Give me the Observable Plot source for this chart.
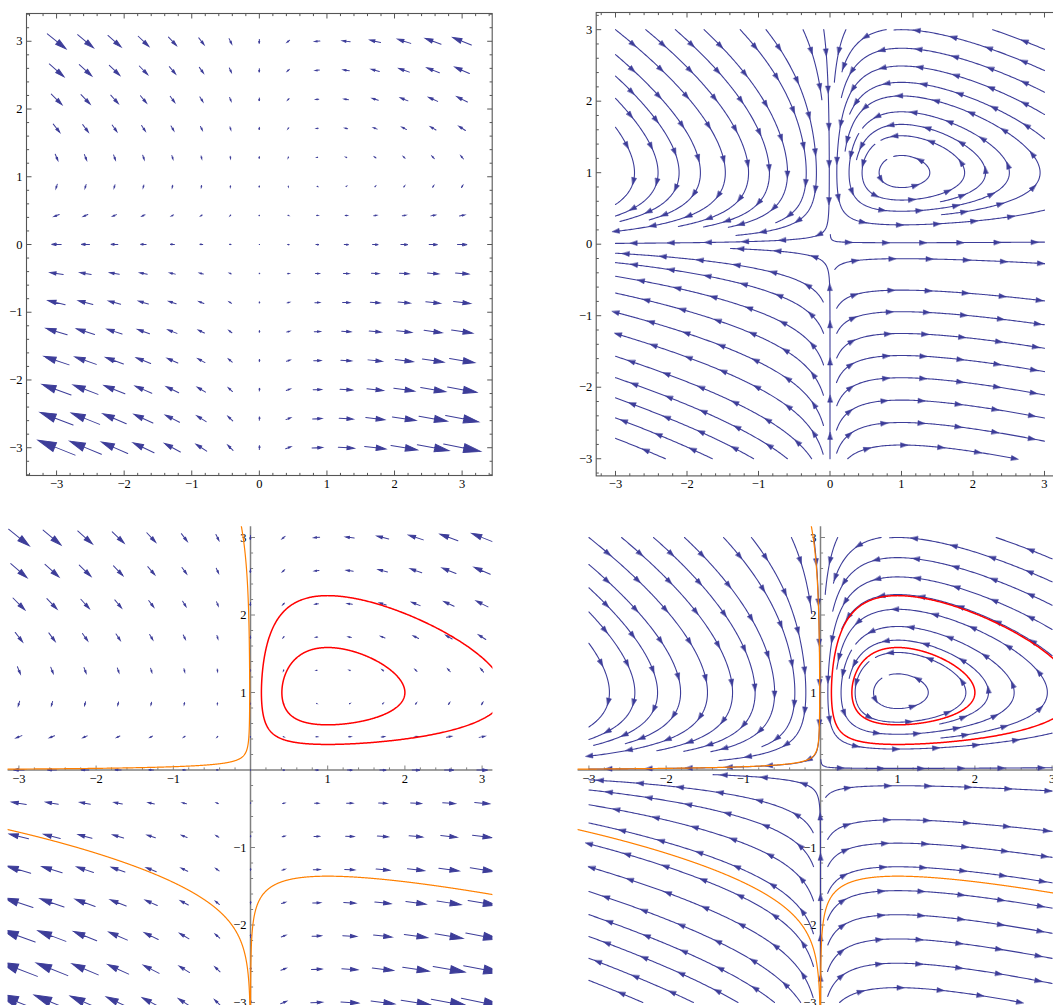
<!DOCTYPE html>
<html><head><meta charset="utf-8">
<script src="https://cdn.jsdelivr.net/npm/d3@7"></script>
<script src="https://cdn.jsdelivr.net/npm/@observablehq/plot@0.6"></script>
<style>
html,body{margin:0;padding:0;background:#fff;overflow:hidden}
#page{position:relative;width:1053px;height:1005px;overflow:hidden;background:#fff}
#page text{font-family:'Liberation Serif','Times New Roman',serif}
</style></head><body><div id="page"></div>
<script>
// ---------------- data ----------------
// sample grid used by the vector plots (15 x 15)
const gridPoints = [-3, -18/7, -15/7, -12/7, -9/7, -6/7, -3/7, 0, 3/7, 6/7, 9/7, 12/7, 15/7, 18/7, 3];
// field coefficients: x' = growth*x*(1-y), y' = coupling*y*(x-1)
const fieldCoefficients = [1, 0.4];
// frame / axis tick labels
const majorTicks = [-3, -2, -1, 0, 1, 2, 3];
const axisTicks = [-3, -2, -1, 1, 2, 3];
// closed orbits (red) through these points
const orbitPoints = [[2, 1], [1, 2.25]];
// open trajectories (orange) through these points
const trajectoryPoints = [[-0.095, 3], [-1, -1.45], [1, -1.37]];

const BLUE = "#3d3d99", RED = "#ff0000", ORANGE = "#ff8000";
const FRAME = "#555", AXIS = "#808080";
const FONT = "'Liberation Serif', 'Times New Roman', serif";
const FS = 12.5;

const [growth, coupling] = fieldCoefficients;
const field = (x, y) => [growth * x * (1 - y), coupling * y * (x - 1)];
const fmt = d => d < 0 ? "\u2212" + Math.abs(d) : String(d);
const minorTicks = d3.range(-17, 18).filter(i => i % 5 !== 0).map(i => i / 5);

function dir(x, y) { const [u, v] = field(x, y); const m = Math.hypot(u, v); return m < 1e-12 ? null : [u / m, v / m]; }
function rk4(x, y, h) {
  const k1 = dir(x, y); if (!k1) return null;
  const k2 = dir(x + h / 2 * k1[0], y + h / 2 * k1[1]); if (!k2) return null;
  const k3 = dir(x + h / 2 * k2[0], y + h / 2 * k2[1]); if (!k3) return null;
  const k4 = dir(x + h * k3[0], y + h * k3[1]); if (!k4) return null;
  return [x + h / 6 * (k1[0] + 2 * k2[0] + 2 * k3[0] + k4[0]), y + h / 6 * (k1[1] + 2 * k2[1] + 2 * k3[1] + k4[1])];
}

// vector samples
const vectors = [];
for (const gx of gridPoints) for (const gy of gridPoints) {
  const [u, v] = field(gx, gy);
  vectors.push({x: gx, y: gy, mag: Math.hypot(u, v), ang: Math.atan2(u, v) * 180 / Math.PI});
}

// conserved quantity for level curves
const V = (x, y) => coupling * (x - Math.log(Math.abs(x))) + growth * (y - Math.log(Math.abs(y)));
const orbits = [];
orbitPoints.forEach(([px, py], id) => {
  const C = V(px, py);
  for (let k = 0; k <= 720; k++) {
    const t = k / 720 * 2 * Math.PI, c = Math.cos(t), s = Math.sin(t);
    let rmax = 8;
    if (c < 0) rmax = Math.min(rmax, -1 / c);
    if (s < 0) rmax = Math.min(rmax, -1 / s);
    let a = 0, b = rmax * 0.9999999;
    for (let it = 0; it < 60; it++) { const m = (a + b) / 2; if (V(1 + m * c, 1 + m * s) < C) a = m; else b = m; }
    orbits.push({x: 1 + a * c, y: 1 + a * s, id});
  }
});

// open trajectories
const trajectories = [];
trajectoryPoints.forEach(([x0, y0], id) => {
  const halves = [];
  for (const sg of [-1, 1]) {
    const pts = []; let x = x0, y = y0;
    for (let n = 0; n < 5000; n++) {
      const p = rk4(x, y, sg * 0.004); if (!p) break;
      [x, y] = p; pts.push([x, y]);
      if (Math.abs(x) > 3.4 || Math.abs(y) > 3.4) break;
    }
    halves.push(pts);
  }
  [...halves[0].reverse(), [x0, y0], ...halves[1]].forEach(([x, y]) => trajectories.push({x, y, id}));
});

// evenly spaced streamlines
function buildStreamlines() {
  const lo = -3, hi = 3, dsep = 0.27, dtest = 0.09, h = 0.02, minLen = 0.3;
  const cs = dsep, off = 5;
  const idx = v => Math.floor((v + off) / cs);
  const kk = (i, j) => i * 4096 + j;
  const cells = new Map();
  const add = (x, y) => { const k = kk(idx(x), idx(y)); let a = cells.get(k); if (!a) cells.set(k, a = []); a.push(x, y); };
  const dmin = (x, y) => { const i = idx(x), j = idx(y); let b = Infinity;
    for (let di = -1; di <= 1; di++) for (let dj = -1; dj <= 1; dj++) { const a = cells.get(kk(i + di, j + dj)); if (!a) continue;
      for (let t = 0; t < a.length; t += 2) { const d = Math.hypot(a[t] - x, a[t + 1] - y); if (d < b) b = d; } }
    return b; };
  const speed = (x, y) => { const [u, v] = field(x, y); return Math.hypot(u, v); };
  const inside = (x, y) => x >= lo && x <= hi && y >= lo && y <= hi;
  function trace(sx, sy) {
    const own = new Map();
    const oadd = (x, y, s) => { const k = kk(idx(x), idx(y)); let a = own.get(k); if (!a) own.set(k, a = []); a.push(x, y, s); };
    const onear = (x, y, s) => { const i = idx(x), j = idx(y);
      for (let di = -1; di <= 1; di++) for (let dj = -1; dj <= 1; dj++) { const a = own.get(kk(i + di, j + dj)); if (!a) continue;
        for (let t = 0; t < a.length; t += 3) if (Math.abs(a[t + 2] - s) > 4 * dtest && Math.hypot(a[t] - x, a[t + 1] - y) < dtest) return true; }
      return false; };
    oadd(sx, sy, 0);
    const halves = [];
    for (const sg of [1, -1]) {
      const pts = []; let x = sx, y = sy, s = 0;
      for (let n = 0; n < 1500; n++) {
        const p = rk4(x, y, sg * h); if (!p) break;
        const [nx, ny] = p;
        if (!inside(nx, ny)) {
          let t = 1;
          if (nx < lo) t = Math.min(t, (lo - x) / (nx - x));
          if (nx > hi) t = Math.min(t, (hi - x) / (nx - x));
          if (ny < lo) t = Math.min(t, (lo - y) / (ny - y));
          if (ny > hi) t = Math.min(t, (hi - y) / (ny - y));
          pts.push([x + t * (nx - x), y + t * (ny - y)]); break;
        }
        if (speed(nx, ny) < 0.003) break;
        s += sg * h;
        if (dmin(nx, ny) < dtest) break;
        if (onear(nx, ny, s)) break;
        x = nx; y = ny; pts.push([x, y]); oadd(x, y, s);
      }
      halves.push(pts);
    }
    return [...halves[1].reverse(), [sx, sy], ...halves[0]];
  }
  const arc = L => { let s = 0; for (let i = 1; i < L.length; i++) s += Math.hypot(L[i][0] - L[i - 1][0], L[i][1] - L[i - 1][1]); return s; };
  const lines = [];
  function tryseed(x, y) {
    if (!inside(x, y)) return null;
    if (dmin(x, y) < dsep * 0.98) return null;
    if (speed(x, y) < 0.01) return null;
    const L = trace(x, y);
    if (arc(L) < minLen) return null;
    for (const p of L) add(p[0], p[1]);
    lines.push(L); return L;
  }
  const seeds = [];
  for (let j = 0; j <= 12; j++) for (let i = 0; i <= 12; i++) seeds.push([-3 + i * 0.5, 3 - j * 0.5]);
  for (const [sx, sy] of seeds) {
    const L0 = tryseed(sx, sy); if (!L0) continue;
    const queue = [L0];
    while (queue.length) {
      const cur = queue.shift();
      for (let i = 1; i < cur.length - 1; i += 4) {
        const tx = cur[i + 1][0] - cur[i - 1][0], ty = cur[i + 1][1] - cur[i - 1][1], tm = Math.hypot(tx, ty);
        if (tm < 1e-9) continue;
        const nx = -ty / tm, ny = tx / tm;
        for (const sd of [1, -1]) { const L = tryseed(cur[i][0] + sd * dsep * nx, cur[i][1] + sd * dsep * ny); if (L) queue.push(L); }
      }
    }
  }
  return lines;
}
const streamLines = buildStreamlines();
const streamPts = [], streamHeads = [];
streamLines.forEach((L, id) => {
  L.forEach(([x, y]) => streamPts.push({x, y, id}));
  let s = 0, next = 0.3;
  for (let i = 1; i < L.length; i++) {
    const dx = L[i][0] - L[i - 1][0], dy = L[i][1] - L[i - 1][1], d = Math.hypot(dx, dy);
    s += d;
    if (s >= next && d > 0) { streamHeads.push({x: L[i][0], y: L[i][1], ang: Math.atan2(dx, dy) * 180 / Math.PI}); next += 0.52; }
  }
});

// ---------------- drawing helpers ----------------
const fieldArrow = {draw(ctx, l) { const hl = 0.45 * l, hw = 0.12 * l;
  ctx.moveTo(0, 0); ctx.lineTo(0, -l + hl * 0.8);
  ctx.moveTo(0, -l); ctx.lineTo(-hw, -l + hl); ctx.lineTo(hw, -l + hl); ctx.closePath(); }};
const headShape = {draw(ctx, l) { const w = l * 0.34; ctx.moveTo(0, -l); ctx.lineTo(-w, 0); ctx.lineTo(w, 0); ctx.closePath(); }};

const textStyle = {fontFamily: FONT, fontSize: FS, fill: "#000"};
function framedTicks(P) {
  const kx = (P.xd[1] - P.xd[0]) / (P.width - P.ml - P.mr), ky = (P.yd[1] - P.yd[0]) / (P.height - P.mt - P.mb);
  const segs = [];
  const inX = t => t > P.xd[0] && t < P.xd[1], inY = t => t > P.yd[0] && t < P.yd[1];
  for (const [vals, len] of [[majorTicks, 5], [minorTicks, 2.6]]) {
    for (const t of vals.filter(inX)) {
      segs.push({x1: t, x2: t, y1: P.yd[0], y2: P.yd[0] + len * ky});
      segs.push({x1: t, x2: t, y1: P.yd[1], y2: P.yd[1] - len * ky});
    }
    for (const t of vals.filter(inY)) {
      segs.push({y1: t, y2: t, x1: P.xd[0], x2: P.xd[0] + len * kx});
      segs.push({y1: t, y2: t, x1: P.xd[1], x2: P.xd[1] - len * kx});
    }
  }
  return [
    Plot.link(segs, {x1: "x1", y1: "y1", x2: "x2", y2: "y2", stroke: FRAME, strokeWidth: 1}),
    Plot.frame({stroke: FRAME, strokeWidth: 1.1}),
    Plot.text(majorTicks, {x: d => d, frameAnchor: "bottom", dy: 12, text: fmt, ...textStyle}),
    Plot.text(majorTicks, {y: d => d, frameAnchor: "left", dx: -4, textAnchor: "end", text: fmt, ...textStyle})
  ];
}
function crossAxes(P) {
  const kx = (P.xd[1] - P.xd[0]) / (P.width - P.ml - P.mr), ky = (P.yd[1] - P.yd[0]) / (P.height - P.mt - P.mb);
  const segs = [];
  for (const [vals, len] of [[axisTicks, 4.5], [minorTicks.filter(t => Math.abs(t) < 3.14), 2.6]]) {
    for (const t of vals) {
      segs.push({x1: t, x2: t, y1: 0, y2: len * ky});
      segs.push({y1: t, y2: t, x1: 0, x2: len * kx});
    }
  }
  return [
    Plot.ruleY([0], {stroke: AXIS, strokeWidth: 1.5}),
    Plot.ruleX([0], {stroke: AXIS, strokeWidth: 1.5}),
    Plot.link(segs, {x1: "x1", y1: "y1", x2: "x2", y2: "y2", stroke: AXIS, strokeWidth: 1}),
    Plot.text(axisTicks, {x: d => d, y: 0, dy: 9, text: fmt, ...textStyle}),
    Plot.text(axisTicks, {x: 0, y: d => d, dx: -4, textAnchor: "end", text: fmt, ...textStyle})
  ];
}
function mount(P, marks, extra = {}) {
  const svg = Plot.plot({
    width: P.width, height: P.height,
    marginLeft: P.ml, marginRight: P.mr, marginTop: P.mt, marginBottom: P.mb,
    x: {domain: P.xd, axis: null}, y: {domain: P.yd, axis: null},
    style: {fontFamily: FONT, background: "transparent"},
    ...extra, marks
  });
  svg.style.position = "absolute"; svg.style.left = P.left + "px"; svg.style.top = P.top + "px";
  svg.style.maxWidth = "none";
  document.getElementById("page").appendChild(svg);
}

// ---------------- panels ----------------
const TL = {left: 0, top: 0, width: 500, height: 500, ml: 26, mr: 8.3, mt: 13, mb: 25, xd: [-3.445, 3.445], yd: [-3.41, 3.41]};
mount(TL, [
  Plot.vector(vectors, {x: "x", y: "y", rotate: "ang", length: d => d.mag * 3.08, anchor: "middle", shape: fieldArrow,
    stroke: BLUE, fill: BLUE, strokeWidth: 1, strokeLinejoin: "miter"}),
  ...framedTicks(TL)
], {length: {type: "identity"}});

const TR = {left: 560, top: 0, width: 520, height: 500, ml: 35.7, mr: 16.7, mt: 12, mb: 24.6, xd: [-3.27, 3.27], yd: [-3.24, 3.24]};
mount(TR, [
  Plot.line(streamPts, {x: "x", y: "y", z: "id", stroke: BLUE, strokeWidth: 1.1}),
  Plot.vector(streamHeads, {x: "x", y: "y", rotate: "ang", length: 7, anchor: "middle", shape: headShape, stroke: BLUE, fill: BLUE, strokeWidth: 0.5}),
  ...framedTicks(TR)
]);

const BL = {left: 0, top: 500, width: 500, height: 530, ml: 7.6, mr: 7.6, mt: 26.15, mb: 17.15, xd: [-3.14, 3.14], yd: [-3.14, 3.14]};
mount(BL, [
  ...crossAxes(BL),
  Plot.vector(vectors, {x: "x", y: "y", rotate: "ang", length: d => d.mag * 3.45, anchor: "middle", shape: fieldArrow,
    stroke: BLUE, fill: BLUE, strokeWidth: 1, strokeLinejoin: "miter", clip: true}),
  Plot.line(trajectories, {x: "x", y: "y", z: "id", stroke: ORANGE, strokeWidth: 1.2, clip: true}),
  Plot.line(orbits, {x: "x", y: "y", z: "id", stroke: RED, strokeWidth: 1.5, clip: true})
], {length: {type: "identity"}});

const BR = {left: 560, top: 500, width: 520, height: 530, ml: 17.6, mr: 17.6, mt: 26.15, mb: 17.15, xd: [-3.14, 3.14], yd: [-3.14, 3.14]};
mount(BR, [
  ...crossAxes(BR),
  Plot.line(streamPts, {x: "x", y: "y", z: "id", stroke: BLUE, strokeWidth: 1.1, clip: true}),
  Plot.vector(streamHeads, {x: "x", y: "y", rotate: "ang", length: 7, anchor: "middle", shape: headShape, stroke: BLUE, fill: BLUE, strokeWidth: 0.5, clip: true}),
  Plot.line(trajectories, {x: "x", y: "y", z: "id", stroke: ORANGE, strokeWidth: 1.2, clip: true}),
  Plot.line(orbits, {x: "x", y: "y", z: "id", stroke: RED, strokeWidth: 1.5, clip: true})
]);
</script>
</body></html>
